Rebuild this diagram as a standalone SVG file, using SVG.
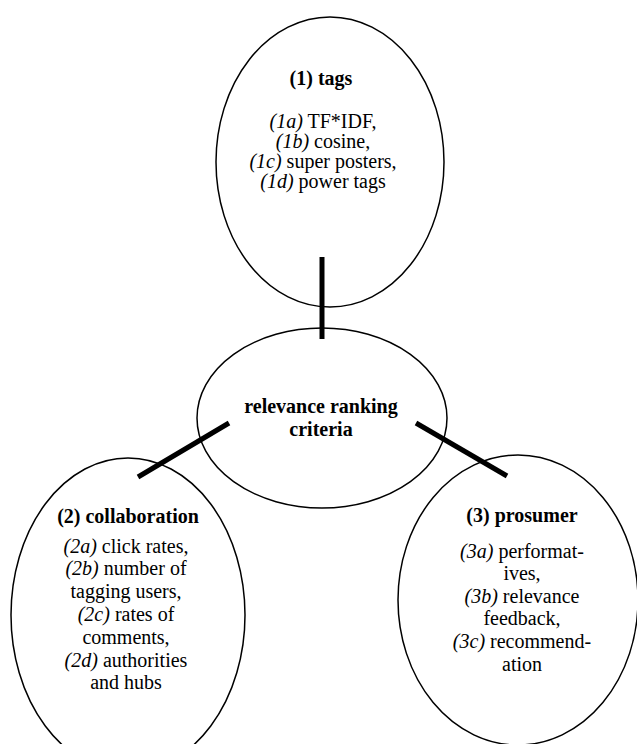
<svg xmlns="http://www.w3.org/2000/svg" width="637" height="744" viewBox="0 0 637 744">
<style>
.bg{fill:#fff}
.node ellipse{fill:none;stroke:#000;stroke-width:1.5}
.conn line{stroke:#000;stroke-width:5}
text{font-family:'Liberation Serif','Times New Roman',serif;font-size:20px;fill:#000;text-anchor:middle}
.b{font-weight:bold}
.i{font-style:italic}
</style>
<rect class="bg" x="0" y="0" width="637" height="744"/>
<g id="tags" class="node">
<ellipse cx="330" cy="162" rx="114" ry="145"/>
<text class="b" x="321" y="85">(1) tags</text>
<text x="323" y="128"><tspan class="i">(1a)</tspan> TF*IDF,</text>
<text x="323" y="148"><tspan class="i">(1b)</tspan> cosine,</text>
<text x="323" y="168"><tspan class="i">(1c)</tspan> super posters,</text>
<text x="323" y="188"><tspan class="i">(1d)</tspan> power tags</text>
</g>
<g id="center" class="node">
<ellipse cx="322" cy="418" rx="125" ry="90"/>
<text class="b" x="321" y="413">relevance ranking</text>
<text class="b" x="321" y="436">criteria</text>
</g>
<g id="collaboration" class="node">
<ellipse cx="128" cy="615" rx="117" ry="157"/>
<text class="b" x="128" y="523">(2) collaboration</text>
<text x="126" y="553"><tspan class="i">(2a)</tspan> click rates,</text>
<text x="126" y="575"><tspan class="i">(2b)</tspan> number of</text>
<text x="126" y="598">tagging users,</text>
<text x="126" y="621"><tspan class="i">(2c)</tspan> rates of</text>
<text x="126" y="644">comments,</text>
<text x="126" y="667"><tspan class="i">(2d)</tspan> authorities</text>
<text x="126" y="689">and hubs</text>
</g>
<g id="prosumer" class="node">
<ellipse cx="518" cy="600" rx="120" ry="145"/>
<text class="b" x="522" y="522">(3) prosumer</text>
<text x="522" y="558"><tspan class="i">(3a)</tspan> performat-</text>
<text x="522" y="580">ives,</text>
<text x="522" y="603"><tspan class="i">(3b)</tspan> relevance</text>
<text x="522" y="625">feedback,</text>
<text x="522" y="648"><tspan class="i">(3c)</tspan> recommend-</text>
<text x="522" y="671">ation</text>
</g>
<g id="connectors" class="conn">
<line x1="322" y1="257" x2="322" y2="339"/>
<line x1="229" y1="423" x2="138" y2="477"/>
<line x1="416" y1="423" x2="507" y2="476"/>
</g>
</svg>
